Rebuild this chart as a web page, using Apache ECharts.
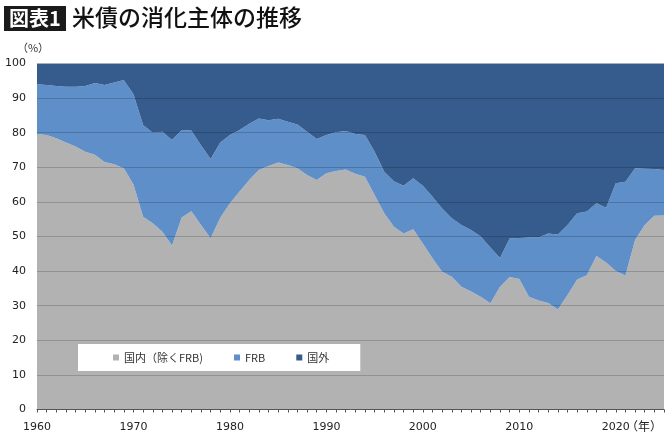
<!DOCTYPE html>
<html>
<head>
<meta charset="utf-8">
<script src="https://cdn.jsdelivr.net/npm/echarts@6/dist/echarts.min.js"></script>
<style>
html, body { margin: 0; padding: 0; background: #fff; }
#main { width: 670px; height: 437px; }
</style>
</head>
<body>
<div id="main"></div>
<script>
// 年（1960〜2025）
var years = [];
for (var y = 1960; y <= 2025; y++) { years.push(String(y)); }

// 国内（除くFRB）の保有比率 %
var domestic = [
    79.6, 79.3, 78.4, 77.2, 76.0, 74.5, 73.6, 71.5, 70.9, 69.7,
    65.0, 55.7, 53.8, 51.4, 47.4, 55.5, 57.3, 53.3, 49.5, 55.4,
    59.6, 63.0, 66.3, 69.2, 70.4, 71.4, 70.7, 69.7, 67.8, 66.3,
    68.3, 68.9, 69.4, 68.1, 67.3, 62.0, 56.7, 52.8, 50.9, 52.1,
    48.0, 43.7, 39.8, 38.4, 35.5, 34.1, 32.6, 30.7, 35.5, 38.3,
    37.7, 32.6, 31.5, 30.8, 28.9, 33.1, 37.6, 38.8, 44.4, 42.5,
    40.0, 38.7, 49.0, 53.3, 56.0, 56.1
];

// FRB
var frb = [
    14.4, 14.5, 15.1, 16.1, 17.3, 19.0, 20.8, 22.3, 23.6, 25.5,
    26.1, 26.5, 26.2, 28.9, 30.5, 25.3, 23.3, 23.1, 22.9, 21.8,
    19.7, 17.8, 16.3, 14.9, 13.2, 12.6, 12.5, 12.7, 12.5, 11.9,
    11.0, 11.2, 11.1, 11.5, 12.0, 12.5, 12.0, 13.2, 13.8, 14.7,
    16.7, 17.8, 18.3, 16.9, 17.8, 17.8, 17.4, 16.1, 8.3, 11.1,
    11.9, 17.1, 18.2, 20.1, 21.7, 20.2, 19.1, 18.4, 15.2, 15.8,
    25.4, 27.1, 20.7, 16.3, 13.5, 13.1
];

// 国外
var foreign = [
    6.0, 6.2, 6.5, 6.7, 6.7, 6.5, 5.6, 6.2, 5.5, 4.8,
    8.9, 17.8, 20.0, 19.7, 22.1, 19.2, 19.4, 23.6, 27.6, 22.8,
    20.7, 19.2, 17.4, 15.9, 16.4, 16.0, 16.8, 17.6, 19.7, 21.8,
    20.7, 19.9, 19.5, 20.4, 20.7, 25.5, 31.3, 34.0, 35.3, 33.2,
    35.3, 38.5, 41.9, 44.7, 46.7, 48.1, 50.0, 53.2, 56.2, 50.6,
    50.4, 50.3, 50.3, 49.1, 49.4, 46.7, 43.3, 42.8, 40.4, 41.7,
    34.6, 34.2, 30.3, 30.4, 30.5, 30.8
];

var yTicks = [0, 10, 20, 30, 40, 50, 60, 70, 80, 90, 100];

var FONT = '"Noto Sans CJK JP", "Noto Sans", sans-serif';
var NUMFONT = '"DejaVu Sans", Verdana, sans-serif';

var chart = echarts.init(document.getElementById('main'), null, { renderer: 'canvas' });

function areaSeries(name, data, color) {
    return {
        name: name,
        type: 'line',
        stack: 'total',
        data: data,
        showSymbol: false,
        symbol: 'none',
        lineStyle: { width: 0 },
        areaStyle: { color: color, opacity: 1 },
        itemStyle: { color: color },
        emphasis: { disabled: true },
        animation: false
    };
}

chart.setOption({
    backgroundColor: '#fff',
    animation: false,
    textStyle: { fontFamily: FONT },
    grid: { left: 37, right: 6, top: 63.5, bottom: 27.5, containLabel: false },
    legend: {
        left: 78,
        top: 344,
        backgroundColor: '#fff',
        padding: [8, 31, 8, 35],
        itemGap: 31,
        itemWidth: 6,
        itemHeight: 6,
        icon: 'rect',
        textStyle: { fontFamily: FONT, fontSize: 11, color: '#333' },
        data: ['国内（除くFRB)', 'FRB', '国外']
    },
    xAxis: {
        type: 'category',
        data: years,
        boundaryGap: false,
        axisLine: { lineStyle: { color: '#555', width: 1 } },
        axisTick: { interval: 0, length: 3, lineStyle: { color: '#555' } },
        axisLabel: {
            interval: 9,
            margin: 12,
            fontSize: 11,
            color: '#222',
            fontFamily: NUMFONT
        },
        splitLine: { show: false },
        z: 5
    },
    yAxis: {
        type: 'value',
        min: yTicks[0],
        max: yTicks[yTicks.length - 1],
        interval: 10,
        axisLine: { show: false },
        axisTick: { show: false },
        axisLabel: { margin: 11, fontSize: 11, color: '#222', fontFamily: NUMFONT },
        splitLine: { lineStyle: { color: 'rgba(0,0,0,0.18)', width: 1 } },
        z: 4
    },
    series: [
        areaSeries('国内（除くFRB)', domestic, '#b2b2b2'),
        areaSeries('FRB', frb, '#5f8fc9'),
        areaSeries('国外', foreign, '#355c8c')
    ],
    graphic: [
        {
            type: 'rect',
            left: 4, top: 6,
            shape: { width: 62, height: 25 },
            style: { fill: '#1a1a1a' }
        },
        {
            type: 'text',
            x: 35, y: 18.5,
            style: {
                text: '図表1',
                fill: '#fff',
                font: 'bold 20px ' + FONT,
                align: 'center',
                verticalAlign: 'middle'
            }
        },
        {
            type: 'text',
            x: 72, y: 17.5,
            style: {
                text: '米債の消化主体の推移',
                fill: '#111',
                font: '500 23px ' + FONT,
                align: 'left',
                verticalAlign: 'middle'
            }
        },
        {
            type: 'text',
            x: 33, y: 47.5,
            style: {
                text: '（%）',
                fill: '#333',
                font: '11px ' + FONT,
                align: 'center',
                verticalAlign: 'middle'
            }
        },
        {
            type: 'text',
            x: 644, y: 426.5,
            style: {
                text: '（年）',
                fill: '#222',
                font: '12px ' + FONT,
                align: 'center',
                verticalAlign: 'middle'
            }
        }
    ]
});
</script>
</body>
</html>
